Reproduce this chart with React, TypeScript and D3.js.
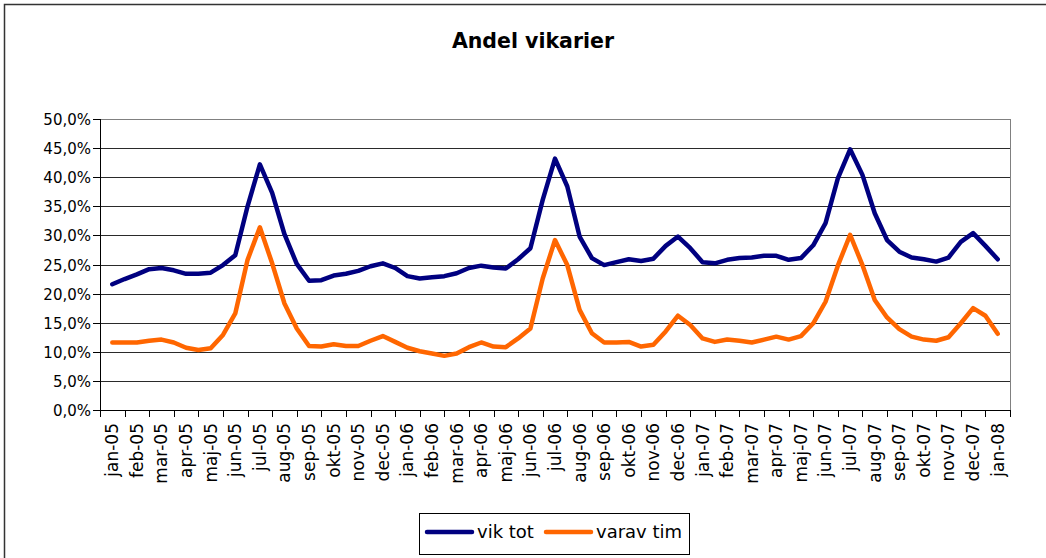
import React from "react";
import * as d3 from "d3";

// monthly category labels on the x axis
const months = [
  "jan-05", "feb-05", "mar-05", "apr-05", "maj-05", "jun-05", "jul-05", "aug-05", "sep-05", "okt-05", "nov-05", "dec-05",
  "jan-06", "feb-06", "mar-06", "apr-06", "maj-06", "jun-06", "jul-06", "aug-06", "sep-06", "okt-06", "nov-06", "dec-06",
  "jan-07", "feb-07", "mar-07", "apr-07", "maj-07", "jun-07", "jul-07", "aug-07", "sep-07", "okt-07", "nov-07", "dec-07",
  "jan-08",
];

// values per half month, jan-05 .. jan-08 (percent)
const vikTot = [
  21.6, 22.5, 23.3, 24.2, 24.4, 24.0, 23.4, 23.4, 23.6, 24.9, 26.6, 35.0, 42.2, 37.3, 30.2, 25.1,
  22.2, 22.3, 23.1, 23.4, 23.9, 24.7, 25.2, 24.4, 23.0, 22.6, 22.8, 23.0, 23.5, 24.4, 24.8, 24.5,
  24.3, 25.9, 27.8, 36.1, 43.2, 38.4, 29.8, 26.1, 24.9, 25.4, 25.9, 25.6, 26.0, 28.2, 29.8, 27.8,
  25.4, 25.2, 25.8, 26.1, 26.2, 26.5, 26.5, 25.8, 26.1, 28.3, 32.1, 39.8, 44.8, 40.4, 33.8, 29.2,
  27.2, 26.2, 25.9, 25.5, 26.2, 28.9, 30.4, 28.2, 25.9,
];

const varavTim = [
  11.6, 11.6, 11.6, 11.9, 12.1, 11.6, 10.7, 10.3, 10.6, 12.9, 16.6, 25.8, 31.4, 25.2, 18.3, 14.0,
  11.0, 10.9, 11.3, 11.0, 11.0, 11.9, 12.7, 11.7, 10.7, 10.1, 9.7, 9.3, 9.7, 10.8, 11.6, 10.9,
  10.8, 12.3, 14.0, 22.6, 29.2, 24.9, 17.2, 13.2, 11.6, 11.6, 11.7, 10.9, 11.2, 13.5, 16.2, 14.6,
  12.3, 11.7, 12.1, 11.9, 11.6, 12.1, 12.6, 12.1, 12.7, 14.9, 18.6, 24.8, 30.1, 24.9, 18.9, 15.9,
  13.9, 12.6, 12.1, 11.9, 12.5, 14.9, 17.5, 16.2, 13.1,
];

const yTicks = [0, 5, 10, 15, 20, 25, 30, 35, 40, 45, 50];

const series = [
  { name: "vik tot", values: vikTot, color: "#000080" },
  { name: "varav tim", values: varavTim, color: "#FF6600" },
];

const W = 1046;
const H = 558;
const plot = { left: 100, right: 1010, top: 119, bottom: 410 };
const font = "'DejaVu Sans', Verdana, sans-serif";

export default function App() {
  const xBand = d3.scaleBand<string>().domain(months).range([plot.left, plot.right]).padding(0);
  const bw = xBand.bandwidth();
  const first = (xBand(months[0]) as number) + bw / 2;
  const last = (xBand(months[months.length - 1]) as number) + bw / 2;
  const x = d3.scaleLinear().domain([0, vikTot.length - 1]).range([first, last]);
  const y = d3.scaleLinear().domain([0, 50]).range([plot.bottom, plot.top]);

  const line = d3
    .line<number>()
    .x((_, i) => x(i))
    .y((d) => y(d));

  const fmt = (v: number) => v.toFixed(1).replace(".", ",") + "%";
  const tickEdges = months.map((m) => xBand(m) as number).concat([plot.right]);

  return (
    <svg width={W} height={H} style={{ position: "absolute", left: 0, top: 0, background: "#fff" }}>
      <rect x={0} y={0} width={W} height={H} fill="#fff" />
      <rect x={4.5} y={4.5} width={W + 20} height={H + 20} fill="none" stroke="#333" strokeWidth={1.5} />

      <text x={533} y={48} textAnchor="middle" fontFamily={font} fontWeight="bold" fontSize={20.5}>
        Andel vikarier
      </text>

      {/* grid */}
      {yTicks.map((t) => (
        <line key={t} x1={plot.left} x2={plot.right} y1={Math.round(y(t)) + 0.5} y2={Math.round(y(t)) + 0.5}
          stroke={t === 50 ? "#808080" : "#2a2a2a"} strokeWidth={1} />
      ))}
      <line x1={plot.right + 0.5} x2={plot.right + 0.5} y1={plot.top} y2={plot.bottom} stroke="#808080" />

      {/* y axis */}
      <line x1={plot.left + 0.5} x2={plot.left + 0.5} y1={plot.top} y2={plot.bottom} stroke="#000" />
      {yTicks.map((t) => (
        <g key={t} transform={`translate(0,${Math.round(y(t)) + 0.5})`}>
          <line x1={plot.left - 7} x2={plot.left} stroke="#000" />
          <text x={plot.left - 9} dy="0.35em" textAnchor="end" fontFamily={font} fontSize={15}>
            {fmt(t)}
          </text>
        </g>
      ))}

      {/* x axis */}
      <line x1={plot.left} x2={plot.right} y1={plot.bottom + 0.5} y2={plot.bottom + 0.5} stroke="#000" />
      {tickEdges.map((e, i) => (
        <line key={i} x1={Math.round(e) + 0.5} x2={Math.round(e) + 0.5} y1={plot.bottom} y2={plot.bottom + 7} stroke="#000" />
      ))}
      {months.map((m) => (
        <text key={m} transform={`translate(${(xBand(m) as number) + bw / 2},${plot.bottom + 13}) rotate(-90)`}
          textAnchor="end" dy="0.35em" fontFamily={font} fontSize={17}>
          {m}
        </text>
      ))}

      {/* lines */}
      {series.map((s) => (
        <path key={s.name} d={line(s.values) || ""} fill="none" stroke={s.color} strokeWidth={4.5}
          strokeLinejoin="round" strokeLinecap="round" />
      ))}

      {/* legend */}
      <rect x={419.5} y={513.5} width={270} height={41} fill="#fff" stroke="#000" />
      {series.map((s, i) => {
        const lx = i === 0 ? 427 : 546;
        return (
          <g key={s.name}>
            <line x1={lx} x2={lx + 45} y1={532} y2={532} stroke={s.color} strokeWidth={4.5} strokeLinecap="round" />
            <text x={lx + 50} y={532} dy="0.35em" fontFamily={font} fontSize={18}>
              {s.name}
            </text>
          </g>
        );
      })}
    </svg>
  );
}
